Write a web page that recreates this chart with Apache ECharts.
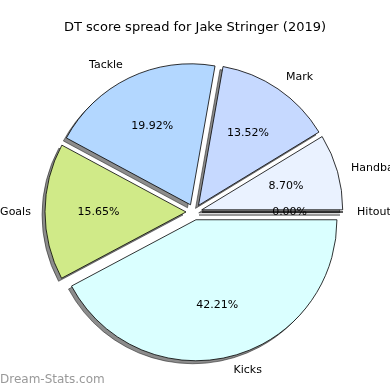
<!DOCTYPE html>
<html>
<head>
<meta charset="utf-8">
<script src="https://cdn.jsdelivr.net/npm/echarts@6/dist/echarts.min.js"></script>
<style>html,body{margin:0;padding:0;background:#fff}#c{width:390px;height:390px}</style>
</head>
<body>
<div id="c"></div>
<script>
var categories = ['Hitout', 'Handball', 'Mark', 'Tackle', 'Goals', 'Kicks'];
var percents = [0.00, 8.70, 13.52, 19.92, 15.65, 42.21];
var colors = ['#c8c8c8', '#eaf2ff', '#c6d9ff', '#b3d7ff', '#d0ea88', '#daffff'];
var titleText = 'DT score spread for Jake Stringer (2019)';

var R = 141, CX = 194, CY = 212, OFF = 8, SH = 3;
var font = 'DejaVu Sans';

function mkData(withStyle) {
  return categories.map(function (c, i) {
    var d = { name: c, value: percents[i], selected: true };
    if (withStyle) d.itemStyle = { color: colors[i] };
    return d;
  });
}

var common = {
  type: 'pie', startAngle: 0, clockwise: false,
  selectedMode: 'multiple', selectedOffset: OFF,
  avoidLabelOverlap: false, silent: true,
  emphasis: { disabled: true }
};

var chart = echarts.init(document.getElementById('c'), null, { renderer: 'canvas' });
chart.setOption({
  animation: false,
  backgroundColor: '#fff',
  title: {
    text: titleText, left: 'center', top: 16,
    textStyle: { fontFamily: font, fontSize: 13, fontWeight: 'normal', color: '#000' }
  },
  graphic: [{
    type: 'text', left: 0, top: 374,
    style: { text: 'Dream-Stats.com', fontFamily: font, fontSize: 12, fontWeight: 'normal', fill: '#999' }
  }],
  series: [
    Object.assign({}, common, {
      center: [CX - SH, CY + SH], radius: [0, R], z: 1,
      data: mkData(false),
      itemStyle: { color: 'rgba(0,0,0,0.45)', borderColor: 'rgba(0,0,0,0.45)', borderWidth: 1 },
      label: { show: false }, labelLine: { show: false }
    }),
    Object.assign({}, common, {
      center: [CX, CY], radius: [0, R], z: 2,
      data: mkData(true),
      itemStyle: { borderColor: '#000', borderWidth: 0.8 },
      label: {
        show: true, position: 'outside', distanceToLabelLine: 0,
        fontFamily: font, fontSize: 11, color: '#000', formatter: '{b}'
      },
      labelLine: { show: false, length: R * 0.1, length2: 0 }
    }),
    Object.assign({}, common, {
      center: [CX, CY], radius: [0, R * 1.2], z: 5,
      data: mkData(false),
      itemStyle: { color: 'rgba(0,0,0,0)', borderWidth: 0 },
      label: {
        show: true, position: 'inside',
        fontFamily: font, fontSize: 11, color: '#000',
        formatter: function (p) { return p.value.toFixed(2) + '%'; }
      },
      labelLine: { show: false }
    })
  ]
});
</script>
</body>
</html>
